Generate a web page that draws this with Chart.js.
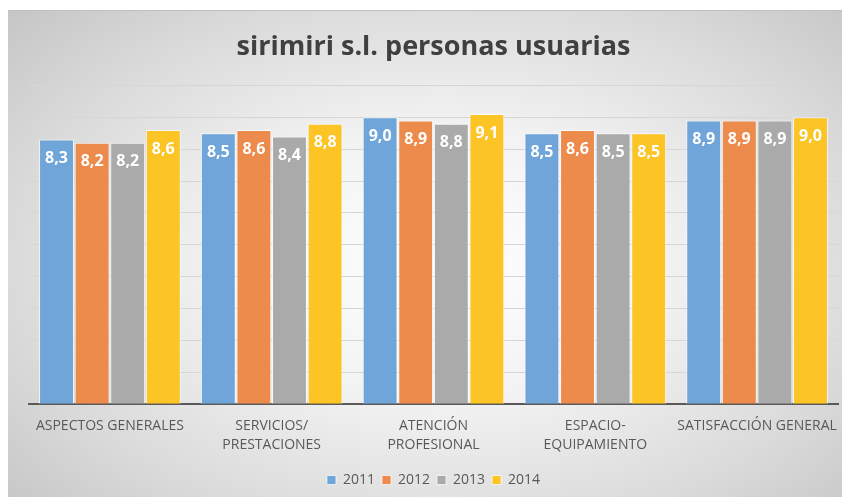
<!DOCTYPE html>
<html>
<head>
<meta charset="utf-8">
<script src="https://cdn.jsdelivr.net/npm/chart.js@4"></script>
<style>
    html, body { margin: 0; padding: 0; background: #fff; }
    #frame {
        position: absolute; left: 8px; top: 10px; width: 834px; height: 487px;
        background: radial-gradient(ellipse 72% 78% at 52% 52%, #ffffff 0%, #f3f3f3 35%, #dadada 72%, #c4c4c4 100%);
        border-top: 1px solid #c0c0c0;
        box-sizing: border-box;
    }
    canvas { display: block; }
</style>
</head>
<body>
<div id="frame"><canvas id="chart" width="834" height="486"></canvas></div>
<script>
// datos
const categories = [
    'ASPECTOS GENERALES',
    ['SERVICIOS/', 'PRESTACIONES'],
    ['ATENCIÓN', 'PROFESIONAL'],
    ['ESPACIO-', 'EQUIPAMIENTO'],
    'SATISFACCIÓN GENERAL'
];
const years = ['2011', '2012', '2013', '2014'];
const v2011 = [8.3, 8.5, 9.0, 8.5, 8.9];
const v2012 = [8.2, 8.6, 8.9, 8.6, 8.9];
const v2013 = [8.2, 8.4, 8.8, 8.5, 8.9];
const v2014 = [8.6, 8.8, 9.1, 8.5, 9.0];
const colors = ['#6fa5d8', '#ec8b4b', '#aaaaaa', '#fcc424'];

const FONT = 'Open Sans';

// etiquetas blancas dentro de las barras
const barLabels = {
    id: 'barLabels',
    afterDatasetsDraw(chart) {
        const ctx = chart.ctx;
        ctx.save();
        ctx.font = `bold 16px "${FONT}"`;
        ctx.fillStyle = '#ffffff';
        ctx.textAlign = 'center';
        ctx.textBaseline = 'middle';
        chart.data.datasets.forEach((ds, i) => {
            chart.getDatasetMeta(i).data.forEach((bar, j) => {
                const txt = ds.data[j].toFixed(1).replace('.', ',');
                ctx.fillText(txt, bar.x, bar.y + 19);
            });
        });
        ctx.restore();
    }
};

const series = [v2011, v2012, v2013, v2014];

new Chart(document.getElementById('chart'), {
    type: 'bar',
    data: {
        labels: categories,
        datasets: years.map((y, i) => ({
            label: y,
            data: series[i],
            backgroundColor: colors[i],
            borderColor: 'rgba(255,255,255,0.7)',
            borderWidth: 1,
            categoryPercentage: 0.88,
            barPercentage: 0.98
        }))
    },
    options: {
        responsive: false,
        animation: false,
        layout: { padding: { left: 21, right: 4, top: 0, bottom: 0 } },
        plugins: {
            title: {
                display: true,
                text: 'sirimiri s.l. personas usuarias',
                color: '#404040',
                font: { family: FONT, size: 27, weight: 'bold' },
                padding: { top: 20, bottom: 22 }
            },
            legend: {
                position: 'bottom',
                labels: {
                    color: '#595959',
                    font: { family: FONT, size: 14 },
                    boxWidth: 9,
                    boxHeight: 9,
                    padding: 7
                }
            },
            tooltip: { enabled: false }
        },
        scales: {
            x: {
                grid: { display: false },
                border: { color: '#595959', width: 2 },
                ticks: {
                    color: '#595959',
                    font: { family: FONT, size: 14, lineHeight: 1.35 },
                    padding: 4,
                    maxRotation: 0,
                    autoSkip: false
                },
                afterFit(scale) { scale.height += 8; }
            },
            y: {
                min: 0,
                max: 10,
                ticks: { stepSize: 1, display: false },
                grid: { color: '#d6d6d6', drawTicks: false },
                border: { display: false }
            }
        }
    },
    plugins: [barLabels]
});
</script>
</body>
</html>
